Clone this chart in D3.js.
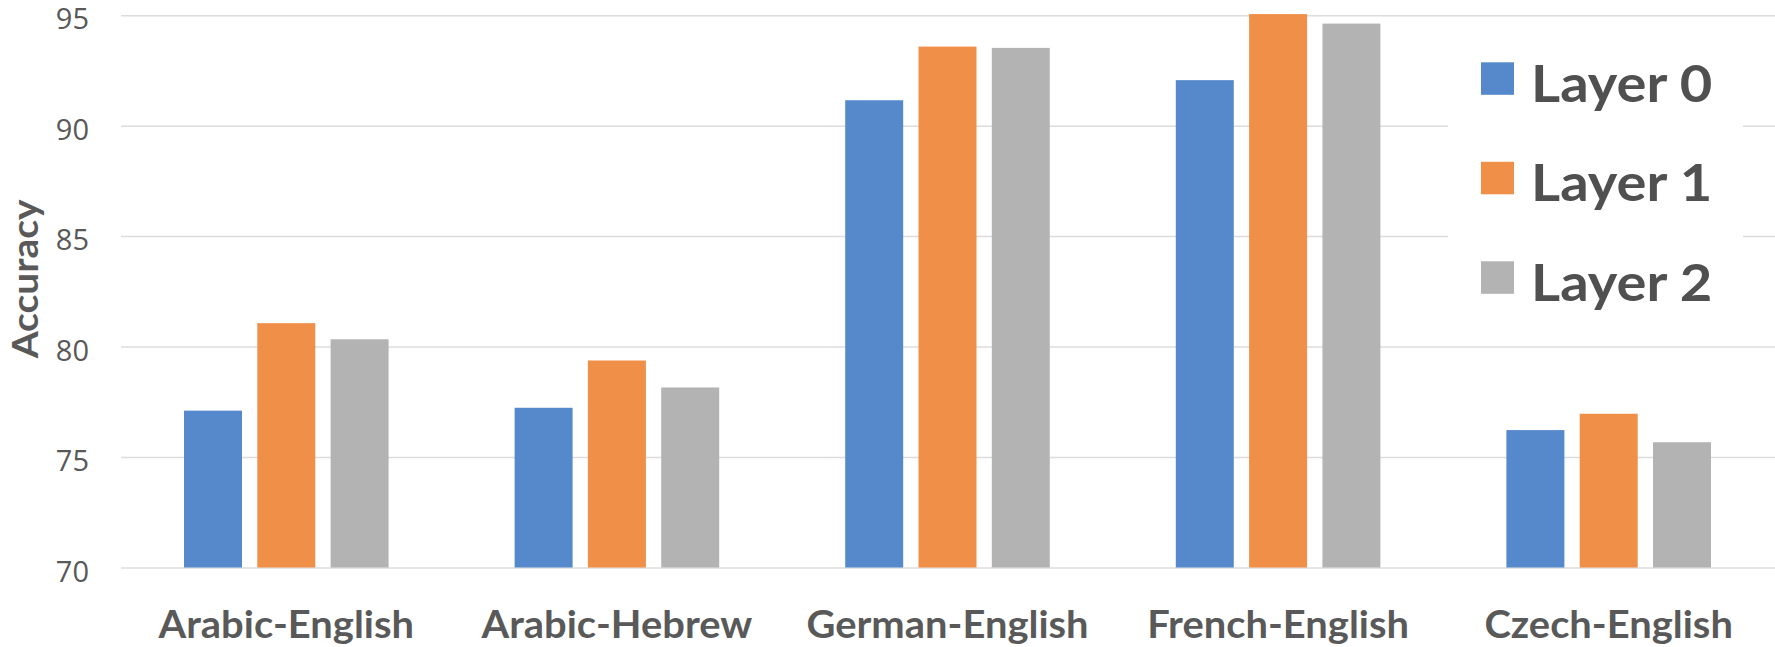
<!DOCTYPE html>
<html>
<head>
<meta charset="utf-8">
<script src="https://cdn.jsdelivr.net/npm/d3@7"></script>
<style>
  html, body { margin: 0; padding: 0; background: #ffffff; }
  svg { display: block; }
</style>
</head>
<body>
<svg id="chart" width="1775" height="647"></svg>
<script>
const categories = ["Arabic-English", "Arabic-Hebrew", "German-English", "French-English", "Czech-English"];
const seriesNames = ["Layer 0", "Layer 1", "Layer 2"];
const layer0 = [77.10, 77.23, 91.15, 92.06, 76.22];
const layer1 = [81.06, 79.37, 93.58, 95.05, 76.96];
const layer2 = [80.33, 78.15, 93.52, 94.62, 75.67];
const yTicks = [70, 75, 80, 85, 90, 95];
const yAxisTitle = "Accuracy";
const seriesColors = ["#5589CB", "#EF8F48", "#B3B3B3"];

const seriesValues = [layer0, layer1, layer2];
const textColor = "#595959";

const svg = d3.select("#chart");

const x0 = d3.scaleBand().domain(categories).range([121, 1774]).paddingInner(0).paddingOuter(0);
const groupHalf = 102.3;
const x1 = d3.scaleBand().domain(seriesNames).range([-groupHalf, groupHalf]).paddingInner(0.209).paddingOuter(0);
const y = d3.scaleLinear().domain([70, 95]).range([567.5, 15.2]);

// Gridlines + tick labels
const yAxis = d3.axisLeft(y).tickValues(yTicks).tickSize(-(1775 - 121)).tickPadding(32).tickFormat(d3.format("d"));
const gAxis = svg.append("g").attr("transform", "translate(121,0)").call(yAxis);
gAxis.select(".domain").remove();
gAxis.selectAll(".tick line").attr("stroke", "#DCDCDC").attr("stroke-width", 1.5);
gAxis.selectAll(".tick text")
  .attr("fill", textColor)
  .attr("font-family", "'Open Sans', sans-serif")
  .attr("font-size", 29)
  .attr("dy", "0.47em");

// Bars
const groups = svg.append("g").selectAll("g")
  .data(categories)
  .join("g")
  .attr("transform", d => `translate(${x0(d) + x0.bandwidth() / 2},0)`);

groups.selectAll("rect")
  .data((c, ci) => seriesNames.map((s, si) => ({ s, si, v: seriesValues[si][ci] })))
  .join("rect")
  .attr("x", d => x1(d.s))
  .attr("width", x1.bandwidth())
  .attr("y", d => y(d.v))
  .attr("height", d => y(70) - y(d.v))
  .attr("fill", d => seriesColors[d.si]);

// Category labels (slightly widened to mimic the original proportions)
const catLabels = svg.append("g").selectAll("text")
  .data(categories)
  .join("text")
  .attr("x", d => x0(d) + x0.bandwidth() / 2)
  .attr("y", 638.3)
  .attr("text-anchor", "middle")
  .attr("fill", textColor)
  .attr("font-family", "Lato, sans-serif")
  .attr("font-weight", "bold")
  .attr("font-size", 38)
  .text(d => d);
const catStretch = 1.05;
catLabels.each(function () {
  const len = this.getComputedTextLength();
  d3.select(this).attr("textLength", len * catStretch).attr("lengthAdjust", "spacingAndGlyphs");
});

// Y axis title
const yTitle = svg.append("text")
  .attr("transform", "translate(38.3,279) rotate(-90)")
  .attr("text-anchor", "middle")
  .attr("fill", textColor)
  .attr("font-family", "Lato, sans-serif")
  .attr("font-weight", "bold")
  .attr("font-size", 36)
  .text(yAxisTitle);
{
  const len = yTitle.node().getComputedTextLength();
  yTitle.attr("textLength", len * 1.08).attr("lengthAdjust", "spacingAndGlyphs");
}

// Legend
const legend = svg.append("g");
legend.append("rect")
  .attr("x", 1448).attr("y", 30).attr("width", 295).attr("height", 300)
  .attr("fill", "#ffffff");
const legendStep = 99.5;
const li = legend.selectAll("g.item")
  .data(seriesNames)
  .join("g")
  .attr("class", "item")
  .attr("transform", (d, i) => `translate(0,${i * legendStep})`);
li.append("rect")
  .attr("x", 1481).attr("y", 62.3)
  .attr("width", 33).attr("height", 32.5)
  .attr("fill", (d, i) => seriesColors[i]);
const legText = li.append("text")
  .attr("x", 1531).attr("y", 101.7)
  .attr("fill", "#505050")
  .attr("font-family", "Lato, sans-serif")
  .attr("font-weight", "bold")
  .attr("font-size", 51)
  .text(d => d);
legText.each(function () {
  const len = this.getComputedTextLength();
  d3.select(this).attr("textLength", len * 1.1).attr("lengthAdjust", "spacingAndGlyphs");
});
</script>
</body>
</html>
